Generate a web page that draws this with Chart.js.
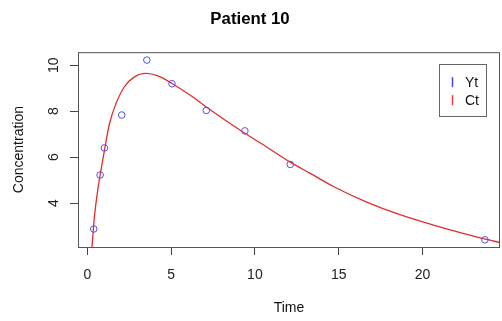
<!DOCTYPE html>
<html>
<head>
<meta charset="utf-8">
<script src="https://cdn.jsdelivr.net/npm/chart.js@4"></script>
<style>
  html, body { margin: 0; padding: 0; background: #fff; }
  #wrap { width: 502px; height: 321px; }
</style>
</head>
<body>
<div id="wrap"><canvas id="patientChart" width="502" height="321"></canvas></div>
<script>
// observed concentrations (Yt)
const obsTime = [0.38, 0.76, 1.02, 2.05, 3.55, 5.05, 7.10, 9.40, 12.11, 23.73];
const obsConc = [2.87, 5.22, 6.40, 7.83, 10.22, 9.19, 8.03, 7.14, 5.68, 2.40];

// fitted curve (Ct)
const fitTime = [0.27, 0.42, 0.62, 0.78, 1.02, 1.32, 1.71, 2.21, 2.81, 3.51, 4.21, 5.05, 6.32, 7.10, 8.32, 9.40, 10.72, 12.11, 13.30, 14.71, 16.71, 18.70, 20.70, 22.70, 23.70, 24.69];
const fitConc = [2.05, 3.40, 4.57, 5.30, 6.30, 7.46, 8.33, 9.06, 9.49, 9.64, 9.53, 9.20, 8.60, 8.18, 7.56, 7.04, 6.43, 5.78, 5.29, 4.71, 4.03, 3.48, 3.03, 2.63, 2.44, 2.27];

const xTicks = [0, 5, 10, 15, 20];
const yTicks = [4, 6, 8, 10];

const FONT = 'Liberation Sans, Arial, Helvetica, sans-serif';

function toPoints(xs, ys) {
    return xs.map((x, i) => ({ x: x, y: ys[i] }));
}

// R style box around the plot region plus the legend in the top right corner
const boxAndLegend = {
    id: 'boxAndLegend',
    afterDraw(chart) {
        const ctx = chart.ctx;
        const a = chart.chartArea;
        ctx.save();
        ctx.strokeStyle = '#555';
        ctx.lineWidth = 1;
        ctx.strokeRect(a.left + 0.5, a.top + 0.5, a.right - a.left - 1, a.bottom - a.top);

        const w = 47, h = 52;
        const lx = a.right - 14 - w;
        const ly = a.top + 12;
        ctx.strokeStyle = '#666';
        ctx.strokeRect(Math.round(lx) + 0.5, Math.round(ly) + 0.5, w, h);

        ctx.font = '14px ' + FONT;
        ctx.textAlign = 'left';
        ctx.textBaseline = 'middle';
        chart.data.datasets.forEach((ds, i) => {
            const cy = ly + 18 + i * 18;
            ctx.strokeStyle = ds.legendColor;
            ctx.lineWidth = 1.5;
            ctx.beginPath();
            ctx.moveTo(lx + 13.5, cy - 5);
            ctx.lineTo(lx + 13.5, cy + 5);
            ctx.stroke();
            ctx.fillStyle = '#111';
            ctx.fillText(ds.label, lx + 26, cy + 1);
        });
        ctx.restore();
    }
};

const ctx = document.getElementById('patientChart').getContext('2d');
new Chart(ctx, {
    type: 'scatter',
    data: {
        datasets: [
            {
                label: 'Yt',
                data: toPoints(obsTime, obsConc),
                pointStyle: 'circle',
                pointRadius: 3.3,
                pointBorderWidth: 1,
                borderColor: 'rgb(80, 80, 235)',
                backgroundColor: 'rgba(0,0,0,0)',
                legendColor: 'rgb(70, 70, 240)',
                order: 1
            },
            {
                label: 'Ct',
                type: 'line',
                data: toPoints(fitTime, fitConc),
                showLine: true,
                pointRadius: 0,
                borderColor: 'rgb(225, 45, 45)',
                borderWidth: 1.3,
                cubicInterpolationMode: 'monotone',
                fill: false,
                legendColor: 'rgb(235, 60, 60)',
                order: 2
            }
        ]
    },
    options: {
        responsive: false,
        animation: false,
        layout: { autoPadding: false, padding: { left: 0, right: 2, top: 0, bottom: 0 } },
        plugins: {
            legend: { display: false },
            tooltip: { enabled: false },
            title: {
                display: true,
                text: 'Patient 10',
                color: '#000',
                font: { family: FONT, size: 16.8, weight: 'bold' },
                padding: { top: 9, bottom: 23 }
            }
        },
        scales: {
            x: {
                type: 'linear',
                min: -0.56,
                max: 24.63,
                afterBuildTicks: scale => { scale.ticks = xTicks.map(v => ({ value: v })); },
                afterFit: scale => { scale.height = 74; },
                border: { display: false },
                grid: { drawOnChartArea: false, drawTicks: true, tickLength: 8, color: '#444' },
                ticks: {
                    color: '#222',
                    padding: 12,
                    maxRotation: 0,
                    font: { family: FONT, size: 14 }
                },
                title: {
                    display: true,
                    text: 'Time',
                    color: '#111',
                    font: { family: FONT, size: 14 },
                    padding: { top: 4, bottom: 4 }
                }
            },
            y: {
                type: 'linear',
                min: 2.087,
                max: 10.565,
                afterBuildTicks: scale => { scale.ticks = yTicks.map(v => ({ value: v })); },
                afterFit: scale => { scale.width = 78; },
                border: { display: false },
                grid: { drawOnChartArea: false, drawTicks: true, tickLength: 8, color: '#444' },
                ticks: {
                    color: '#222',
                    padding: 8,
                    minRotation: 90,
                    maxRotation: 90,
                    crossAlign: 'center',
                    font: { family: FONT, size: 14 }
                },
                title: {
                    display: true,
                    text: 'Concentration',
                    color: '#111',
                    font: { family: FONT, size: 14 },
                    padding: { top: 10.5, bottom: 10.5 }
                }
            }
        }
    },
    plugins: [boxAndLegend]
});
</script>
</body>
</html>
